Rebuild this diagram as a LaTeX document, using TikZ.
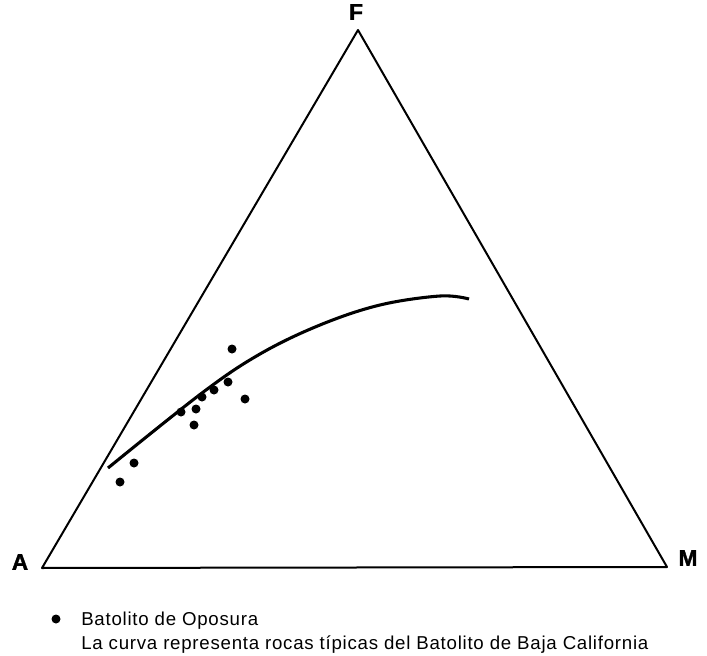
\documentclass[tikz,border=0pt]{standalone}
\usepackage{fontspec}
\setmainfont{Liberation Sans}
\newfontfamily\heavyfont[FakeBold=1.5]{Liberation Sans Bold}
\newfontfamily\legendfont[LetterSpace=4]{Liberation Sans}
\begin{document}
\begin{tikzpicture}[x=0.75pt,y=-0.75pt]
        \useasboundingbox (0,0) rectangle (707,656);
        % vertices of the triangle
        \coordinate (topF) at (358,30);
        \coordinate (leftA) at (42,568);
        \coordinate (rightM) at (667,567);
        \draw[line width=1.5pt, line join=round] (leftA) -- (topF) -- (rightM) -- cycle;
        
        \node[font=\fontsize{17}{17}\heavyfont] (labelF) at (356,12) {F};
        \node[font=\fontsize{17}{17}\heavyfont] (labelA) at (20,562) {A};
        \node[font=\fontsize{17}{17}\heavyfont] (labelM) at (688,558) {M};
        
        % curve of Baja California
        \draw[line width=2.3pt] plot[smooth, tension=0.6] coordinates
            {(108,468) (202,393) (260,354) (320,325) (380,305) (440,296) (469,299)};
        
        % samples
        \foreach \x/\y in {232/349, 228/382, 245/399, 214/390, 202/397,
                           196/409, 181/412, 194/425, 134/463, 120/482} {
            \fill (\x,\y) circle (4.5);
        }
        
        % legend
        \fill (56,619) circle (4.5);
        \node[anchor=base west, inner sep=0pt, font=\fontsize{14}{14}\legendfont] (legA) at (81,625) {Batolito de Oposura};
        \node[anchor=base west, inner sep=0pt, font=\fontsize{14}{14}\legendfont] (legB) at (81,649) {La curva representa rocas típicas del Batolito de Baja California};
    \end{tikzpicture}
\end{document}
